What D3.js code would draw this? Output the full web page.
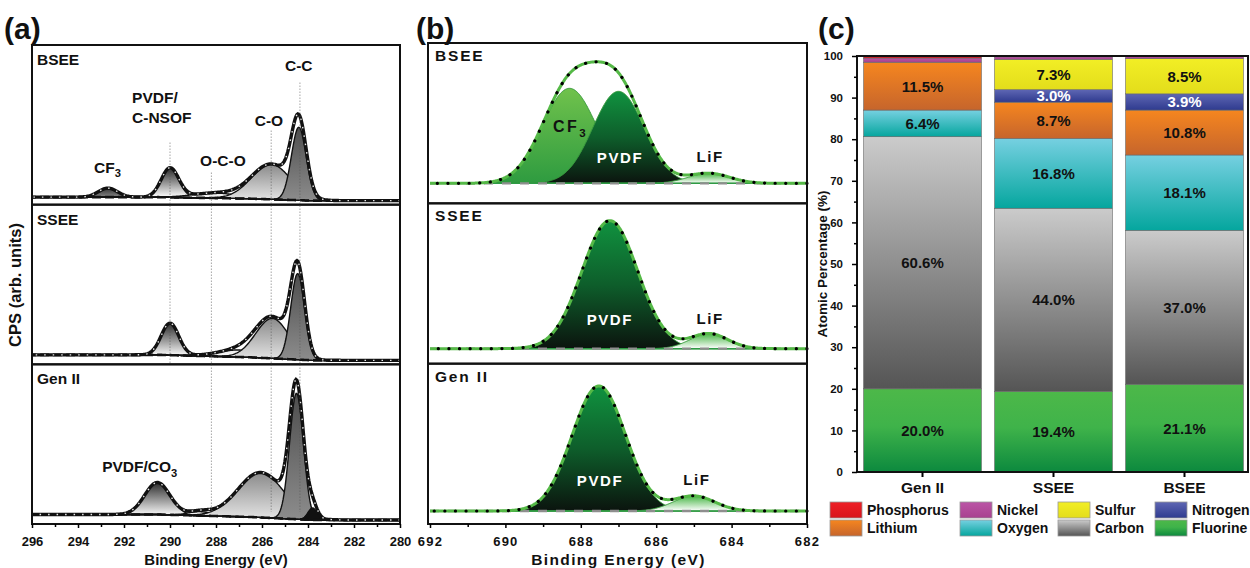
<!DOCTYPE html>
<html><head><meta charset="utf-8">
<script src="https://cdn.jsdelivr.net/npm/d3@7"></script>
<style>
body{margin:0;background:#fff;}
svg text{font-family:Arial,"Liberation Sans",sans-serif;font-weight:bold;fill:#111;}
</style></head><body>
<script>
// ================= DATA =================
// ---- Panel (a): C 1s spectra (peak center eV, sigma eV, height a.u.) ----
const aSamples = ["BSEE", "SSEE", "Gen II"];
const aTicks = [296, 294, 292, 290, 288, 286, 284, 282, 280];
const aRefLines = [290.0, 288.2, 285.6, 284.35];

const aBSEE_names   = ["CF3", "PVDF", "O-C-O", "C-O", "C-C"];
const aBSEE_centers = [292.7, 290.0, 288.0, 285.6, 284.4];
const aBSEE_sigmas  = [0.42, 0.38, 1.0, 0.85, 0.32];
const aBSEE_heights = [9, 29, 5, 35, 73];
const aBSEE_bg      = [[280, 4], [283.8, 4], [286.5, 6], [290.5, 7.5], [296, 7.5]];

const aSSEE_names   = ["PVDF", "O-C-O", "C-O", "C-C"];
const aSSEE_centers = [290.0, 287.0, 285.55, 284.45];
const aSSEE_sigmas  = [0.38, 0.9, 0.72, 0.3];
const aSSEE_heights = [32, 7, 40, 86];
const aSSEE_bg      = [[280, 4], [283.8, 4], [286.5, 7], [290.5, 9.5], [296, 9.5]];

const aGen_names    = ["PVDF", "O-C-O", "C-O", "C-C", "C-x"];
const aGen_centers  = [290.55, 288.7, 286.05, 284.5, 283.8];
const aGen_sigmas   = [0.55, 0.5, 1.0, 0.3, 0.2];
const aGen_heights  = [32, 4, 45, 126, 12];
const aGen_bg       = [[280, 4], [283.8, 4], [286.5, 7], [290.5, 9.5], [296, 9.5]];

// ---- Panel (b): F 1s spectra ----
const bTicks = [692, 690, 688, 686, 684, 682];
const bBSEE_names   = ["CF3", "PVDF", "LiF"];
const bBSEE_centers = [688.3, 687.0, 684.6];
const bBSEE_sigmas  = [0.72, 0.68, 0.55];
const bBSEE_heights = [95, 92, 10];
const bBSEE_base    = 20;

const bSSEE_names   = ["PVDF", "LiF"];
const bSSEE_centers = [687.23, 684.6];
const bSSEE_sigmas  = [0.74, 0.5];
const bSSEE_heights = [128, 15];
const bSSEE_base    = 15;

const bGen_names    = ["PVDF", "LiF"];
const bGen_centers  = [687.52, 685.0];
const bGen_sigmas   = [0.71, 0.55];
const bGen_heights  = [125, 15];
const bGen_base     = 13;

// ---- Panel (c): atomic percentages ----
const cCategories = ["Gen II", "SSEE", "BSEE"];
const cElements   = ["Fluorine", "Carbon", "Oxygen", "Lithium", "Nitrogen", "Sulfur", "Nickel", "Phosphorus"];
const cFluorine   = [20.0, 19.4, 21.1];
const cCarbon     = [60.6, 44.0, 37.0];
const cOxygen     = [6.4, 16.8, 18.1];
const cLithium    = [11.5, 8.7, 10.8];
const cNitrogen   = [0.0, 3.0, 3.9];
const cSulfur     = [0.0, 7.3, 8.5];
const cNickel     = [1.0, 0.6, 0.5];
const cPhosphorus = [0.5, 0.2, 0.1];
const cYTicks     = [0, 10, 20, 30, 40, 50, 60, 70, 80, 90, 100];
const cLegendOrder = ["Phosphorus", "Nickel", "Sulfur", "Nitrogen", "Lithium", "Oxygen", "Carbon", "Fluorine"];

// ================= DRAWING =================
const svg = d3.select("body").append("svg").attr("width", 1250).attr("height", 568);
const defs = svg.append("defs");
function vgrad(id, stops) {
  const g = defs.append("linearGradient").attr("id", id).attr("x1", 0).attr("y1", 0).attr("x2", 0).attr("y2", 1);
  stops.forEach(([o, c]) => g.append("stop").attr("offset", o).attr("stop-color", c));
  return `url(#${id})`;
}
const gauss = (x, c, s, h) => h * Math.exp(-((x - c) ** 2) / (2 * s * s));
function labelSub(g, x, y, main, sub, size, anchor, fill, ls) {
  const t = g.append("text").attr("x", x).attr("y", y).attr("font-size", size).attr("text-anchor", anchor || "start")
    .style("letter-spacing", ls || "0px").style("fill", fill || "#111");
  t.append("tspan").text(main);
  if (sub) t.append("tspan").attr("dy", size * 0.3).attr("font-size", size * 0.72).text(sub);
  return t;
}

// ---------- Panel (a) ----------
const aStyle = {
  "CF3":   vgrad("aCF3", [[0, "#333"], [1, "#a8a8a8"]]),
  "PVDF":  vgrad("aPVDF", [[0, "#2a2a2a"], [0.85, "#f4f4f4"], [1, "#fff"]]),
  "O-C-O": vgrad("aOCO", [[0, "#eee"], [1, "#fff"]]),
  "C-O":   vgrad("aCO", [[0, "#8a8a8a"], [1, "#e6e6e6"]]),
  "C-C":   vgrad("aCC", [[0, "#4e4e4e"], [1, "#8c8c8c"]]),
  "C-x":   "#111"
};
const aL = 32, aR = 400, aT = 45, aB = 524;
const xA = d3.scaleLinear().domain([296, 280]).range([aL, aR]);
const aSubH = (aB - aT) / 3;
const aGrid = d3.range(280, 296.0001, 0.04);
const aSets = [
  [aBSEE_names, aBSEE_centers, aBSEE_sigmas, aBSEE_heights, aBSEE_bg],
  [aSSEE_names, aSSEE_centers, aSSEE_sigmas, aSSEE_heights, aSSEE_bg],
  [aGen_names, aGen_centers, aGen_sigmas, aGen_heights, aGen_bg]
];
const yA = [];
const gA = svg.append("g");
aSets.forEach((set, k) => {
  const top = aT + k * aSubH, bot = top + aSubH;
  const y = d3.scaleLinear().domain([0, aSubH]).range([bot, top]);
  yA.push(y);
  const [names, centers, sigmas, heights, bg] = set;
  const bgS = d3.scaleLinear().domain(bg.map(d => d[0])).range(bg.map(d => d[1]));
  const comps = names.map((n, i) => aGrid.map(e => gauss(e, centers[i], sigmas[i], heights[i])));
  const env = aGrid.map((e, j) => bgS(e) + d3.sum(comps, c => c[j]));
  const g = gA.append("g");
  comps.forEach((c, i) => {
    const area = d3.area().x((d, j) => xA(aGrid[j])).y0((d, j) => y(bgS(aGrid[j]))).y1((d, j) => y(bgS(aGrid[j]) + d));
    g.append("path").datum(c).attr("d", area).attr("fill", aStyle[names[i]])
      .attr("stroke", "#111").attr("stroke-width", 1.4);
  });
  const line = d3.line().x((d, j) => xA(aGrid[j])).y(d => y(d));
  const bgVals = aGrid.map(e => bgS(e));
  g.append("path").datum(bgVals).attr("d", line).attr("fill", "none").attr("stroke", "#111").attr("stroke-width", 2.6).attr("stroke-dasharray", "9,4");
  g.append("path").datum(env).attr("d", line).attr("fill", "none").attr("stroke", "#111").attr("stroke-width", 3.4);
  g.append("path").datum(env).attr("d", line).attr("fill", "none").attr("stroke", "#e8e8e8").attr("stroke-width", 1.4).attr("stroke-dasharray", "1.5,7");
  g.append("rect").attr("x", aL).attr("y", top).attr("width", aR - aL).attr("height", aSubH)
    .attr("fill", "none").attr("stroke", "#111").attr("stroke-width", 2);
  g.append("text").attr("x", aL + 5).attr("y", top + 20).attr("font-size", 15.5).text(aSamples[k]);
});
// reference lines (a)
const refTopV = [62, 32, 74, 122];
aRefLines.forEach((e, i) => {
  const yEnd = i === 0 ? yA[1](0) : yA[2](12);
  svg.append("line").attr("x1", xA(e)).attr("x2", xA(e)).attr("y1", yA[0](refTopV[i])).attr("y2", yEnd)
    .attr("stroke", "#555").attr("stroke-width", 0.8).attr("stroke-dasharray", "1,2");
});
labelSub(svg, xA(284.4), yA[0](134), "C-C", null, 15.5, "middle");
labelSub(svg, xA(291.65), yA[0](102), "PVDF/", null, 15.5);
labelSub(svg, xA(291.65), yA[0](82), "C-NSOF", null, 15.5);
labelSub(svg, xA(285.7), yA[0](79), "C-O", null, 15.5, "middle");
labelSub(svg, xA(287.7), yA[0](39), "O-C-O", null, 15.5, "middle");
labelSub(svg, xA(293.3), yA[0](32), "CF", "3", 15.5);
labelSub(svg, xA(292.95), yA[2](52), "PVDF/CO", "3", 15.5);
const axA = svg.append("g").attr("transform", `translate(0,${aB})`)
  .call(d3.axisBottom(xA).tickValues(aTicks).tickSize(4).tickPadding(9).tickFormat(d3.format("d")));
axA.select(".domain").remove();
axA.selectAll("text").attr("font-size", 13).style("font-family", "Arial, Liberation Sans").style("font-weight", "bold");
axA.selectAll("line").attr("stroke-width", 1.5);
const axAm = svg.append("g").attr("transform", `translate(0,${aB})`)
  .call(d3.axisBottom(xA).tickValues(d3.range(281, 296, 2)).tickSize(3).tickFormat(""));
axAm.select(".domain").remove();
axAm.selectAll("line").attr("stroke-width", 1.5);
svg.append("text").attr("x", (aL + aR) / 2).attr("y", 565).attr("text-anchor", "middle").attr("font-size", 15).text("Binding Energy (eV)");
svg.append("text").attr("transform", `translate(21,285) rotate(-90)`).attr("text-anchor", "middle").attr("font-size", 16.5).text("CPS (arb. units)");
svg.append("text").attr("x", 4).attr("y", 39).attr("font-size", 30).text("(a)");

// ---------- Panel (b) ----------
const bStyle = {
  "CF3":  vgrad("bCF3", [[0, "#70c24c"], [1, "#2e9b40"]]),
  "PVDF": vgrad("bPVDF", [[0, "#10923f"], [0.5, "#0e5e2b"], [1, "#0b140e"]]),
  "LiF":  vgrad("bLiF", [[0, "#48b646"], [1, "#ffffff"]])
};
const bL = 430, bR = 807, bT = 43, bB = 524;
const xB = d3.scaleLinear().domain([692, 682]).range([bL, bR]);
const bSubH = (bB - bT) / 3;
const bGrid = d3.range(682, 692.0001, 0.02);
const bSets = [
  [bBSEE_names, bBSEE_centers, bBSEE_sigmas, bBSEE_heights, bBSEE_base],
  [bSSEE_names, bSSEE_centers, bSSEE_sigmas, bSSEE_heights, bSSEE_base],
  [bGen_names, bGen_centers, bGen_sigmas, bGen_heights, bGen_base]
];
const yB = [];
bSets.forEach((set, k) => {
  const top = bT + k * bSubH, bot = top + bSubH;
  const y = d3.scaleLinear().domain([0, bSubH]).range([bot, top]);
  yB.push(y);
  const [names, centers, sigmas, heights, base] = set;
  const comps = names.map((n, i) => bGrid.map(e => gauss(e, centers[i], sigmas[i], heights[i])));
  const env = bGrid.map((e, j) => base + d3.sum(comps, c => c[j]));
  const g = svg.append("g");
  comps.forEach((c, i) => {
    const area = d3.area().x((d, j) => xB(bGrid[j])).y0(y(base)).y1(d => y(base + d));
    g.append("path").datum(c).attr("d", area).attr("fill", bStyle[names[i]])
      .attr("stroke", "#3a9c3e").attr("stroke-width", 1);
  });
  const line = d3.line().x((d, j) => xB(bGrid[j])).y(d => y(d));
  g.append("line").attr("x1", bL).attr("x2", bR).attr("y1", y(base)).attr("y2", y(base)).attr("stroke", "#2f9a45").attr("stroke-width", 1.5);
  g.append("line").attr("x1", bL).attr("x2", bR).attr("y1", y(base)).attr("y2", y(base)).attr("stroke", "#8e8e8e").attr("stroke-width", 2.4).attr("stroke-dasharray", "9,9");
  g.append("path").datum(env).attr("d", line).attr("fill", "none").attr("stroke", "#55b947").attr("stroke-width", 3);
  g.append("path").datum(env).attr("d", line).attr("fill", "none").attr("stroke", "#000").attr("stroke-width", 3.2)
    .attr("stroke-linecap", "round").attr("stroke-dasharray", "0.1,10.5");
  g.append("rect").attr("x", bL - 2).attr("y", top).attr("width", bR - bL + 2).attr("height", bSubH)
    .attr("fill", "none").attr("stroke", "#111").attr("stroke-width", 2);
  g.append("text").attr("x", bL + 5).attr("y", top + 18).attr("font-size", 15.5).style("letter-spacing", "1.8px").text(aSamples[k]);
});
labelSub(svg, xB(688.74), yB[0](71), "CF", "3", 16, "start", "#111", "2.5px");
labelSub(svg, xB(686.96), yB[0](40), "PVDF", null, 15, "middle", "#fff", "1.6px");
labelSub(svg, xB(684.57), yB[0](41), "LiF", null, 15, "middle", "#111", "1.6px");
labelSub(svg, xB(687.23), yB[1](39), "PVDF", null, 15, "middle", "#fff", "1.6px");
labelSub(svg, xB(684.57), yB[1](40), "LiF", null, 15, "middle", "#111", "1.6px");
labelSub(svg, xB(687.49), yB[2](38), "PVDF", null, 15, "middle", "#fff", "1.6px");
labelSub(svg, xB(684.92), yB[2](39), "LiF", null, 15, "middle", "#111", "1.6px");
const axB = svg.append("g").attr("transform", `translate(0,${bB})`)
  .call(d3.axisBottom(xB).tickValues(bTicks).tickSize(4).tickPadding(9).tickFormat(d3.format("d")));
axB.select(".domain").remove();
axB.selectAll("text").attr("font-size", 13).style("letter-spacing", "1.2px").style("font-family", "Arial, Liberation Sans").style("font-weight", "bold");
axB.selectAll("line").attr("stroke-width", 1.5);
const axBm = svg.append("g").attr("transform", `translate(0,${bB})`)
  .call(d3.axisBottom(xB).tickValues(d3.range(683, 692, 2)).tickSize(3).tickFormat(""));
axBm.select(".domain").remove();
axBm.selectAll("line").attr("stroke-width", 1.5);
svg.append("text").attr("x", (bL + bR) / 2).attr("y", 565).attr("text-anchor", "middle").attr("font-size", 15.5).style("letter-spacing", "1.4px").text("Binding Energy (eV)");
svg.append("text").attr("x", 416).attr("y", 39).attr("font-size", 30).text("(b)");

// ---------- Panel (c) ----------
const cL = 857, cR = 1248, cT = 56, cB = 472;
const cColors = {
  Fluorine:   vgrad("cF", [[0, "#4db849"], [0.45, "#3fb34a"], [1, "#0c893e"]]),
  Carbon:     vgrad("cC", [[0, "#cbcbcb"], [1, "#555555"]]),
  Oxygen:     vgrad("cO", [[0, "#76d0e1"], [1, "#05a69e"]]),
  Lithium:    vgrad("cLi", [[0, "#f6861f"], [1, "#c6652c"]]),
  Nitrogen:   vgrad("cN", [[0, "#5e66b3"], [1, "#2f3b8f"]]),
  Sulfur:     vgrad("cS", [[0, "#f2ee25"], [1, "#e3dd1b"]]),
  Nickel:     vgrad("cNi", [[0, "#bb55a6"], [1, "#a8418f"]]),
  Phosphorus: vgrad("cP", [[0, "#ee1f26"], [1, "#d8141c"]])
};
const cValues = { Fluorine: cFluorine, Carbon: cCarbon, Oxygen: cOxygen, Lithium: cLithium,
  Nitrogen: cNitrogen, Sulfur: cSulfur, Nickel: cNickel, Phosphorus: cPhosphorus };
const xC = d3.scaleBand().domain(cCategories).range([cL, 1250]).paddingInner(0.1).paddingOuter(0.05);
const yC = d3.scaleLinear().domain([0, 100]).range([cB, cT]);
const table = cCategories.map((c, i) => { const o = { cat: c }; cElements.forEach(e => o[e] = cValues[e][i]); return o; });
const stack = d3.stack().keys(cElements)(table);
const gC = svg.append("g");
stack.forEach(layer => {
  const el = layer.key;
  layer.forEach((d, i) => {
    const v = d[1] - d[0];
    if (v <= 0) return;
    gC.append("rect").attr("x", xC(cCategories[i])).attr("width", xC.bandwidth())
      .attr("y", yC(d[1])).attr("height", yC(d[0]) - yC(d[1]))
      .attr("fill", cColors[el]).attr("stroke", "#6a6a6a").attr("stroke-width", 0.6);
    if (v >= 2.5) {
      gC.append("text").attr("x", xC(cCategories[i]) + xC.bandwidth() / 2).attr("y", yC((d[0] + d[1]) / 2))
        .attr("dy", "0.36em").attr("text-anchor", "middle").attr("font-size", 15)
        .style("fill", el === "Nitrogen" ? "#fff" : "#111").text(v.toFixed(1) + "%");
    }
  });
});
svg.append("rect").attr("x", cL).attr("y", cT).attr("width", cR - cL).attr("height", cB - cT)
  .attr("fill", "none").attr("stroke", "#111").attr("stroke-width", 2);
const axCy = svg.append("g").attr("transform", `translate(${cL},0)`)
  .call(d3.axisLeft(yC).tickValues(cYTicks).tickSize(5).tickPadding(9));
axCy.select(".domain").remove();
axCy.selectAll("text").attr("font-size", 11.5).style("font-family", "Arial, Liberation Sans").style("font-weight", "bold");
axCy.selectAll("line").attr("stroke-width", 1.5);
const axCym = svg.append("g").attr("transform", `translate(${cL},0)`)
  .call(d3.axisLeft(yC).tickValues(d3.range(5, 100, 10)).tickSize(3).tickFormat(""));
axCym.select(".domain").remove();
axCym.selectAll("line").attr("stroke-width", 1.5);
const axCx = svg.append("g").attr("transform", `translate(0,${cB})`)
  .call(d3.axisBottom(xC).tickSize(5).tickPadding(5));
axCx.select(".domain").remove();
axCx.selectAll("text").attr("font-size", 15.5).style("font-family", "Arial, Liberation Sans").style("font-weight", "bold");
axCx.selectAll("line").attr("stroke-width", 2);
svg.append("text").attr("transform", `translate(827,264) rotate(-90)`).attr("text-anchor", "middle").attr("font-size", 13.5).text("Atomic Percentage (%)");
svg.append("text").attr("x", 818).attr("y", 39).attr("font-size", 30).text("(c)");
const legX = [830, 960, 1058, 1155], legY = [502, 520];
cLegendOrder.forEach((el, i) => {
  const col = i % 4, row = Math.floor(i / 4);
  svg.append("rect").attr("x", legX[col]).attr("y", legY[row]).attr("width", 32).attr("height", 16)
    .attr("fill", cColors[el]).attr("stroke", "#999").attr("stroke-width", 0.8);
  svg.append("text").attr("x", legX[col] + 37).attr("y", legY[row] + 13).attr("font-size", 14).text(el);
});
</script>
</body></html>
